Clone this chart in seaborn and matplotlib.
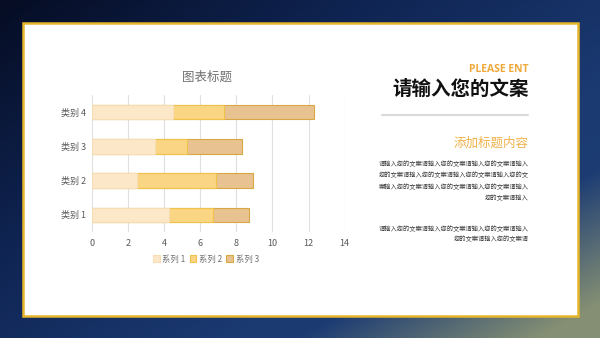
import numpy as np
import pandas as pd
import matplotlib
matplotlib.use("Agg")
import matplotlib.pyplot as plt
from matplotlib.patches import Rectangle, Patch
from matplotlib.colors import LinearSegmentedColormap
import seaborn as sns

categories = ["类别 1", "类别 2", "类别 3", "类别 4"]
series_names = ["系列 1", "系列 2", "系列 3"]
s1 = [4.3, 2.5, 3.5, 4.5]
s2 = [2.4, 4.4, 1.8, 2.8]
s3 = [2.0, 2.0, 3.0, 5.0]
xticks = [0, 2, 4, 6, 8, 10, 12, 14]

sns.set_theme(style="white")
plt.rcParams["font.family"] = ["Noto Sans CJK SC", "DejaVu Sans"]

W, H = 600, 338
fig = plt.figure(figsize=(6, 3.38), dpi=100)

# background gradient
bg = fig.add_axes([0, 0, 1, 1])
yy, xx = np.mgrid[0:1:200j, 0:1:360j]
t = np.clip(0.55 * xx + 0.45 * yy, 0, 1)
gold = np.clip((xx - 0.75) * 2.5 + (yy - 0.75) * 2.5, 0, 1)
cmap = LinearSegmentedColormap.from_list("bgc", ["#060d24", "#0f2452", "#1b3a72", "#1f4077"])
img = cmap(t)[..., :3]
goldc = np.array([0.62, 0.64, 0.45])
img = img * (1 - gold[..., None] * 0.8) + goldc * gold[..., None] * 0.8
bg.imshow(img, extent=[0, 1, 0, 1], aspect="auto", origin="upper")
bg.set_xlim(0, 1)
bg.set_ylim(0, 1)
bg.axis("off")

# white panel
bg.add_patch(Rectangle((23 / W, 1 - 316 / H), 555 / W, 293 / H, transform=bg.transAxes,
                       facecolor="white", edgecolor="#E6B52C", lw=1.8, zorder=2))

# chart
ax = fig.add_axes([91.7 / W, 1 - 232 / H, 253 / W, 137 / H])
df = pd.DataFrame({"cat": categories, "s1": s1, "s2": s2, "s3": s3})
df["c1"] = df["s1"]
df["c2"] = df["s1"] + df["s2"]
df["c3"] = df["c2"] + df["s3"]
order = categories[::-1]
fills = ["#FCE8C8", "#FAD583", "#E8C391"]
edges = ["#F6DDB3", "#F0C24A", "#D9A843"]
for col, fc, ec in [("c3", fills[2], edges[2]), ("c2", fills[1], edges[1]), ("c1", fills[0], edges[0])]:
    sns.barplot(data=df, x=col, y="cat", order=order, orient="h", color=fc,
                edgecolor=ec, linewidth=0.8, width=0.42, ax=ax, saturation=1, zorder=3)
ax.set_xlim(0, 14)
ax.set_ylim(3.5, -0.5)
ax.set_xticks(xticks)
ax.set_xticklabels([str(v) for v in xticks], fontsize=6.5, color="#595959")
ax.tick_params(axis="y", labelsize=6.5, labelcolor="#595959", length=0, pad=4)
ax.tick_params(axis="x", length=0, pad=5)
ax.set_xlabel("")
ax.set_ylabel("")
ax.grid(axis="x", color="#E0E0E0", lw=0.8, zorder=0)
ax.set_axisbelow(True)
for s in ax.spines.values():
    s.set_visible(False)
ax.set_facecolor("none")

fig.text(207 / W, 1 - 77 / H, "图表标题", ha="center", va="center", fontsize=9, color="#707070")

handles = [Patch(facecolor=f, edgecolor=e, lw=0.8) for f, e in zip(fills, edges)]
fig.legend(handles, series_names, loc="center", bbox_to_anchor=(206 / W, 1 - 259 / H), ncol=3,
           frameon=False, fontsize=6, labelcolor="#707070", handlelength=0.8, handleheight=0.8,
           handletextpad=0.3, columnspacing=0.5)

# right side text
R = 529 / W
fig.text(R, 1 - 69 / H, "PLEASE ENT", ha="right", va="center", fontsize=7.5, color="#EFA93A",
         fontweight="bold", family=["Open Sans", "DejaVu Sans"])
fig.text(R, 1 - 89 / H, "请输入您的文案", ha="right", va="center", fontsize=14, color="#111111",
         fontweight="bold")
bg.plot([382 / W, 528 / W], [1 - 115 / H, 1 - 115 / H], color="#DADADA", lw=1.5, zorder=3,
        transform=bg.transAxes)
fig.text(R, 1 - 143 / H, "添加标题内容", ha="right", va="center", fontsize=9, color="#F0B24A")

lines1 = ["请输入您的文案请输入您的文案请输入您的文案请输入",
          "您的文案请输入您的文案请输入您的文案请输入您的文",
          "案输入您的文案请输入您的文案请输入您的文案请输入",
          "您的文案请输入"]
lines2 = ["请输入您的文案请输入您的文案请输入您的文案请输入",
          "您的文案请输入您的文案请"]
for i, ln in enumerate(lines1):
    fig.text(R, 1 - (164 + 11.4 * i) / H, ln, ha="right", va="center", fontsize=4.5, color="#3a3a3a")
for i, ln in enumerate(lines2):
    fig.text(R, 1 - (229 + 10.5 * i) / H, ln, ha="right", va="center", fontsize=4.5, color="#3a3a3a")

fig.savefig("out.png", dpi=100)
